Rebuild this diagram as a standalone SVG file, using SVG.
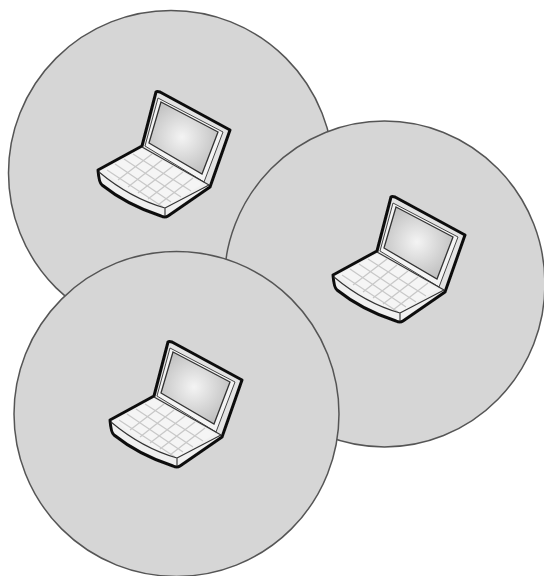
<svg xmlns="http://www.w3.org/2000/svg" width="544" height="576" viewBox="0 0 544 576">
<style>
.cell{fill:#d6d6d6;stroke:#555;stroke-width:1.5}
.out{fill:none;stroke:#111;stroke-width:3;stroke-linejoin:round;stroke-linecap:round}
.thin{fill:none;stroke:#333;stroke-width:1.1;stroke-linejoin:round}
.key{fill:none;stroke:#c8c8c8;stroke-width:1.3}
</style>
<defs>
<radialGradient id="scr" gradientUnits="userSpaceOnUse" cx="97" cy="57" r="42">
<stop offset="0" stop-color="#f4f4f4"/><stop offset="1" stop-color="#bcbcbc"/>
</radialGradient>
<filter id="soft" x="-5%" y="-5%" width="110%" height="110%"><feGaussianBlur stdDeviation="0.55"/></filter>
<g id="laptop" filter="url(#soft)">
<path d="M71 12 L145 50 L125 107 L80 137 L77 136 Q45 126 17 105 L13 90 L57 66 Z" fill="#f0f0f0"/>
<path d="M71 12 L145 50 L124 105 L57 66 Z" fill="#e4e4e4"/>
<path d="M73 18 L138 52 L119 102 L60 66 Z" fill="#f4f4f4" stroke="#444" stroke-width="1"/>
<path d="M76 22 L133 52 L117 94 L64 63 Z" fill="url(#scr)" stroke="#333" stroke-width="1.3"/>
<path d="M57 69 L118 104 L79 128 Q45 116 19 90 Z" fill="#f5f5f5"/>
<path class="key" d="M48 74 L106 111 M39 79 L96 117 M30 84 L86 122 M22 90 L78 127 M67 74 L33 100 M77 80 L43 107 M88 86 L53 113 M98 92 L63 119 M108 98 L73 125"/>
<path class="out" d="M57 66 L71 12 Q72 11 75 12 L145 50 L125 107 L83 136 Q80 138 76 136 Q42 125 17 105 Q14 103 13 90 L57 66"/>
<path class="thin" d="M14 92 Q45 118 80 128 L124 105 M80 128 L80 136"/>
<path class="thin" d="M57 67 L124 105"/>
</g>
</defs>
<g id="node-1"><circle class="cell" cx="171" cy="173" r="162.500" filter="url(#soft)"/><use href="#laptop" x="85" y="80"/></g>
<g id="node-2"><ellipse class="cell" cx="384.500" cy="284" rx="160.500" ry="163" filter="url(#soft)"/><use href="#laptop" x="320" y="185"/></g>
<g id="node-3"><circle class="cell" cx="176.500" cy="414" r="162.500" filter="url(#soft)"/><use href="#laptop" transform="translate(97 330)"/></g>
<g id="connectors"></g>
</svg>
